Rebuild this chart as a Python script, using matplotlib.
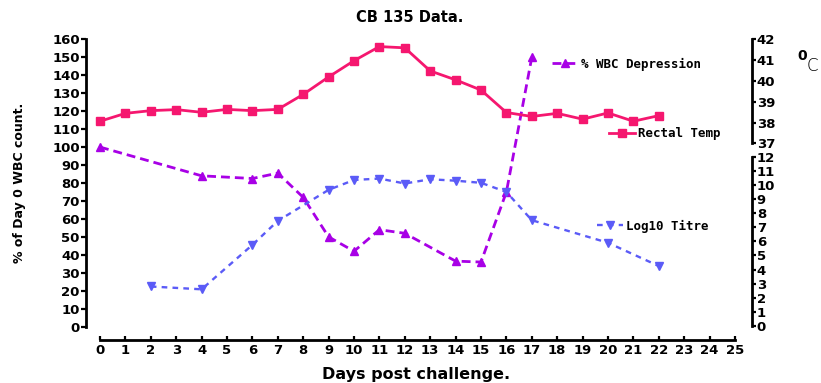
import matplotlib
matplotlib.use("Agg")
import matplotlib.pyplot as plt
import numpy as np

# ---- data ----
temp_days = [0, 1, 2, 3, 4, 5, 6, 7, 8, 9, 10, 11, 12, 13, 14, 15, 16, 17, 18, 19, 20, 21, 22]
temp_vals = [38.06, 38.44, 38.57, 38.62, 38.49, 38.63, 38.57, 38.63, 39.35, 40.19, 40.97, 41.65,
             41.59, 40.48, 40.05, 39.56, 38.48, 38.29, 38.44, 38.16, 38.46, 38.06, 38.33]

wbc_days = [0, 4, 6, 7, 8, 9, 10, 11, 12, 14, 15, 16, 17]
wbc_vals = [100, 84, 82.5, 85.5, 72, 50, 42, 54, 52, 36.5, 36, 75, 150]

titre_days = [2, 4, 6, 7, 9, 10, 11, 12, 13, 14, 15, 16, 17, 20, 22]
titre_vals = [2.8, 2.6, 5.75, 7.45, 9.65, 10.35, 10.45, 10.1, 10.4, 10.3, 10.15, 9.5, 7.5, 5.9, 4.25]

x_ticks = list(range(0, 26))
left_ticks = list(range(0, 161, 10))
temp_ticks = [37, 38, 39, 40, 41, 42]
titre_ticks = list(range(0, 13))

title = "CB 135 Data."
xlabel = "Days post challenge."
ylabel = "% of Day 0 WBC count."
lbl_wbc = "% WBC Depression"
lbl_temp = "Rectal Temp"
lbl_titre = "Log10 Titre"

PINK = "#F5176F"
PURPLE = "#A800E6"
BLUE = "#5B5BF7"

W, H = 821, 383
fig = plt.figure(figsize=(W / 100, H / 100), dpi=100)

def fpos(x0, x1, ytop, ybot):
    return [x0 / W, 1 - ybot / H, (x1 - x0) / W, (ybot - ytop) / H]

px = 72 / 100  # points per pixel
TFS = 9.5

# main axes (% WBC)
ax = fig.add_axes(fpos(100, 735, 39.3, 326.7))
ax.set_xlim(0, 25)
ax.set_ylim(0, 160)
ax.patch.set_alpha(0)
for s in ["top", "right"]:
    ax.spines[s].set_visible(False)
ax.spines["left"].set_position(("outward", 14 * px))
ax.spines["bottom"].set_position(("outward", 13 * px))
ax.spines["left"].set_bounds(0, 160)
ax.spines["bottom"].set_bounds(0, 25)
for s in ["left", "bottom"]:
    ax.spines[s].set_linewidth(2.0)
ax.set_xticks(x_ticks)
ax.set_yticks(left_ticks)
ax.tick_params(axis="y", direction="out", length=3.5, width=1.6, pad=1)
ax.tick_params(axis="x", direction="in", length=3, width=1.6, pad=3)
for lab in ax.get_xticklabels() + ax.get_yticklabels():
    lab.set_fontsize(TFS)
    lab.set_fontweight("bold")

# temperature axes
axt = fig.add_axes(fpos(100, 735, 39.3, 143.3))
axt.set_xlim(0, 25)
axt.set_ylim(37, 42)
axt.patch.set_alpha(0)
for s in ["top", "left", "bottom"]:
    axt.spines[s].set_visible(False)
axt.spines["right"].set_position(("outward", 17 * px))
axt.spines["right"].set_linewidth(2.0)
axt.set_xticks([])
axt.yaxis.tick_right()
axt.set_yticks(temp_ticks)
axt.tick_params(axis="y", direction="out", length=3, width=1.6, pad=0.5)
for lab in axt.get_yticklabels():
    lab.set_fontsize(TFS)
    lab.set_fontweight("bold")

# titre axes
axl = fig.add_axes(fpos(100, 735, 156.7, 326.0))
axl.set_xlim(0, 25)
axl.set_ylim(0, 12)
axl.patch.set_alpha(0)
for s in ["top", "left", "bottom"]:
    axl.spines[s].set_visible(False)
axl.spines["right"].set_position(("outward", 17 * px))
axl.spines["right"].set_linewidth(2.0)
axl.set_xticks([])
axl.yaxis.tick_right()
axl.set_yticks(titre_ticks)
axl.tick_params(axis="y", direction="out", length=3, width=1.6, pad=0.5)
for lab in axl.get_yticklabels():
    lab.set_fontsize(TFS)
    lab.set_fontweight("bold")

# series
l_temp, = axt.plot(temp_days, temp_vals, color=PINK, lw=2.0, marker="s", ms=5.8,
                   clip_on=False, zorder=3)
l_titre, = axl.plot(titre_days, titre_vals, color=BLUE, lw=1.7, ls=(0, (2.4, 2.2)),
                    marker="v", ms=6.3, clip_on=False, zorder=3)
l_wbc, = ax.plot(wbc_days, wbc_vals, color=PURPLE, lw=2.0, ls=(0, (3.2, 1.8)),
                 marker="^", ms=6.3, clip_on=False, zorder=4)

# legends
legfont = dict(family="DejaVu Sans Mono", weight="bold", size=9)
def add_leg(axis, line, label, x, y, hl):
    lg = axis.legend([line], [label], loc="center left", bbox_to_anchor=(x / W, 1 - y / H),
                     bbox_transform=fig.transFigure, frameon=False, borderpad=0,
                     borderaxespad=0, handlelength=hl, handletextpad=0.25, numpoints=1,
                     prop=legfont, markerscale=0.9)
    return lg

add_leg(ax, l_wbc, lbl_wbc, 552, 64, 2.1)
add_leg(axt, l_temp, lbl_temp, 609, 134, 2.1)
add_leg(axl, l_titre, lbl_titre, 597, 226, 2.1)

# text
fig.text(410 / W, 1 - 17 / H, title, ha="center", va="center", fontsize=10.5, fontweight="bold")
fig.text(416 / W, 1 - 374 / H, xlabel, ha="center", va="center", fontsize=11.5, fontweight="bold")
fig.text(20 / W, 1 - 183 / H, ylabel, ha="center", va="center", rotation=90, fontsize=9,
         fontweight="semibold")
fig.text(802 / W, 1 - 56 / H, "0", ha="center", va="center", fontsize=10, fontweight="heavy")
fig.text(812 / W, 1 - 66 / H, "C", ha="center", va="center", fontsize=12, fontweight="light")

fig.savefig("out.png", dpi=100)
